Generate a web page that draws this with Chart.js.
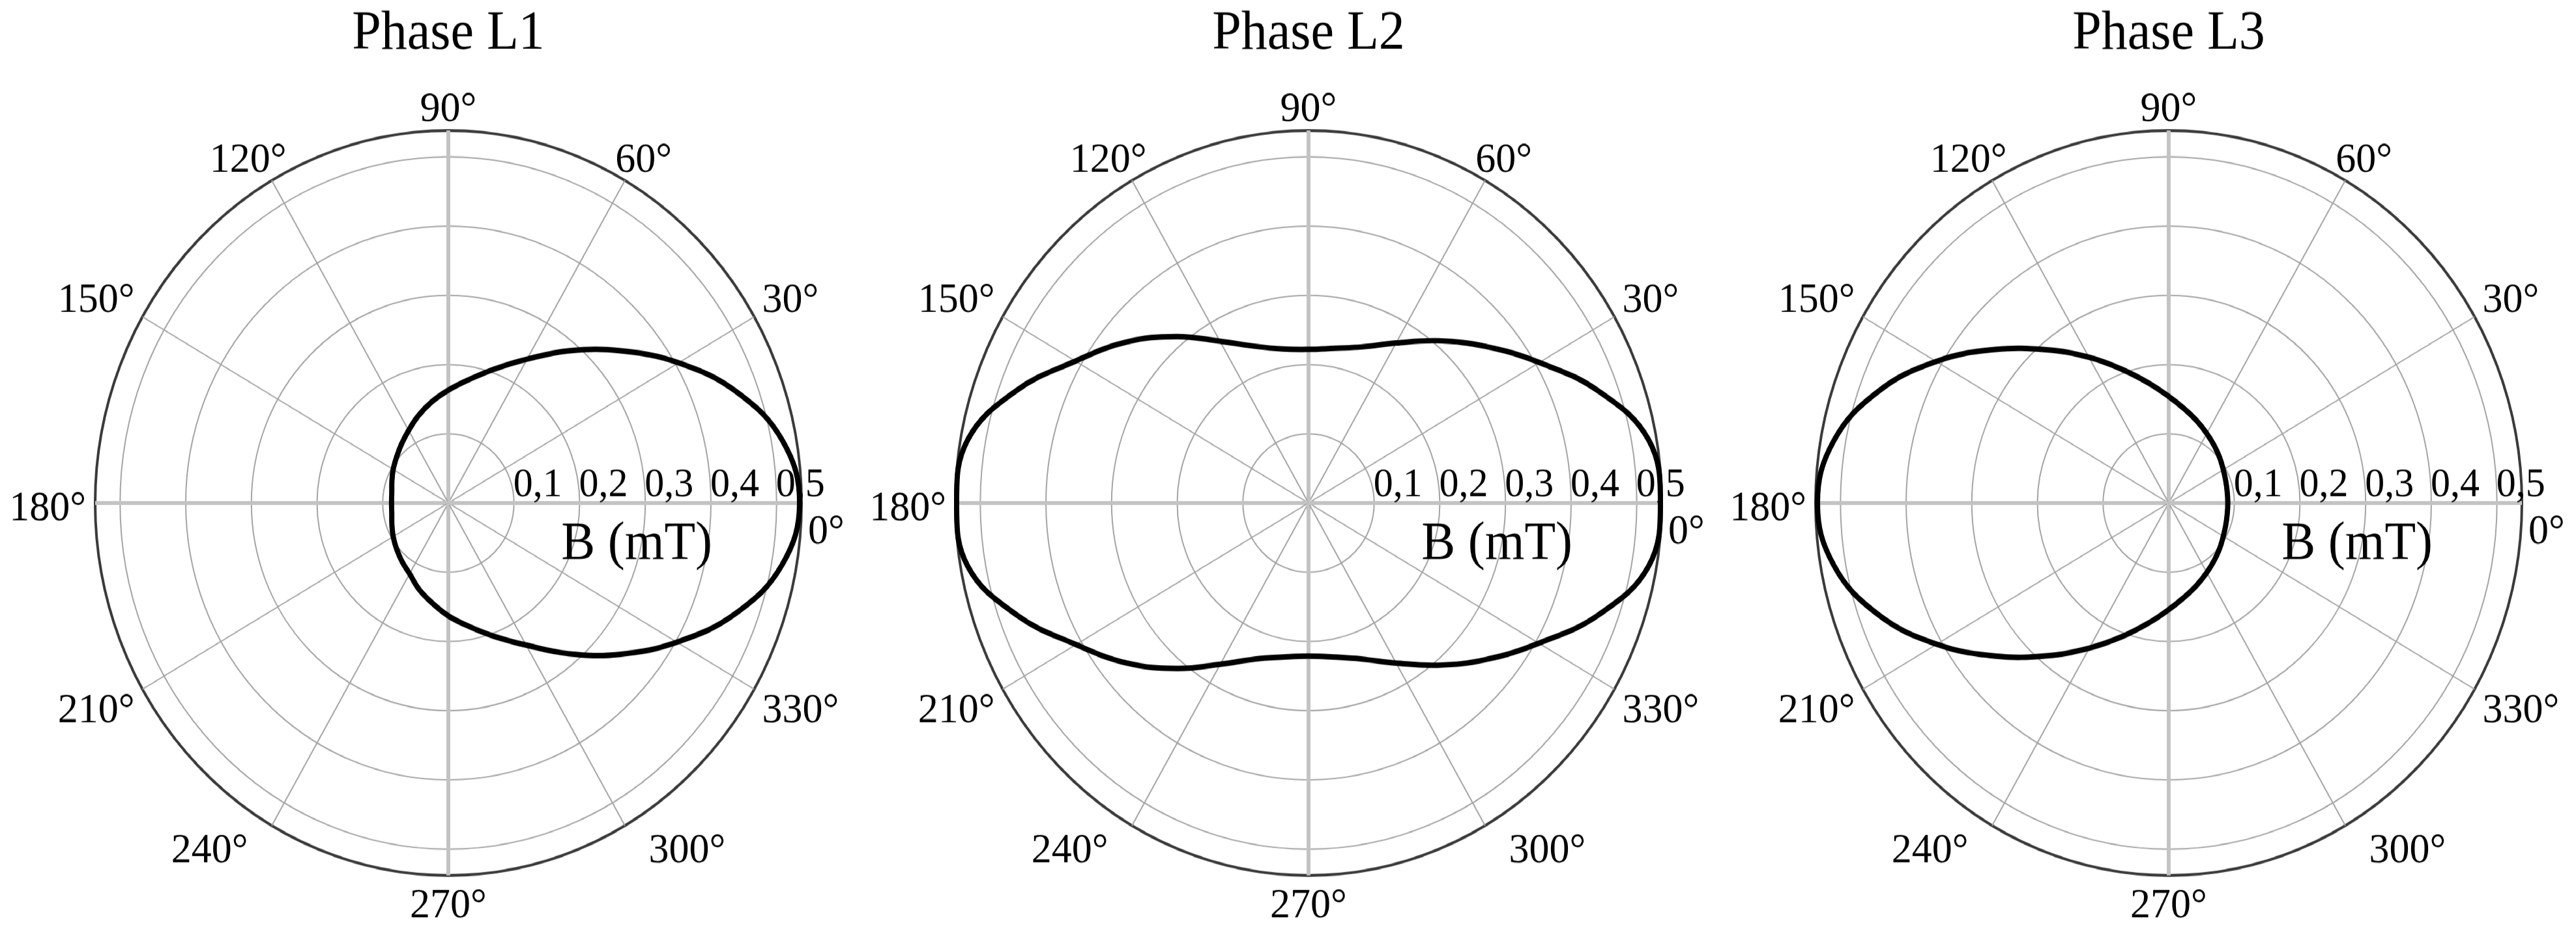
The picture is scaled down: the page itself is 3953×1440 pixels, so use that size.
<!DOCTYPE html>
<html>
<head>
<meta charset="utf-8">
<title>Phase L1 / L2 / L3</title>
<script src="https://cdn.jsdelivr.net/npm/chart.js@4.4.1/dist/chart.umd.min.js"></script>
<style>
  html, body { margin: 0; padding: 0; background: #fff; overflow: hidden; }
  #page { position: absolute; left: 0; top: 0; width: 3953px; height: 1365px;
          transform: scaleY(1.05495); transform-origin: 0 0; }
  .plot { position: absolute; top: 0; width: 1500px; height: 1365px; }
</style>
</head>
<body>
<div id="page">
  <div class="plot" style="left:-62px"><canvas id="l1" width="1500" height="1365"></canvas></div>
  <div class="plot" style="left:1258px"><canvas id="l2" width="1500" height="1365"></canvas></div>
  <div class="plot" style="left:2578px"><canvas id="l3" width="1500" height="1365"></canvas></div>
</div>
<script>
// polar angle of every sample (degrees, counter-clockwise from the right)
const angles = [0, 10, 20, 30, 40, 50, 60, 70, 80, 90, 100, 110, 120, 130, 140, 150, 160, 170,
                180, 190, 200, 210, 220, 230, 240, 250, 260, 270, 280, 290, 300, 310, 320, 330, 340, 350];

const labelAngles = [0, 30, 60, 90, 120, 150, 180, 210, 240, 270, 300, 330];
const angleLabels = ['0°', '30°', '60°', '90°', '120°', '150°', '180°', '210°', '240°', '270°', '300°', '330°'];

const tickValues = [0.1, 0.2, 0.3, 0.4, 0.5];
const tickLabels = ['0,1', '0,2', '0,3', '0,4', '0,5'];
const rMax = 0.538;
const axisTitle = 'B (mT)';

const titles = ['Phase L1', 'Phase L2', 'Phase L3'];

// B (mT) per angle
const phaseL1 = [0.535, 0.517, 0.468, 0.405, 0.342, 0.287, 0.240, 0.206, 0.181, 0.163, 0.148, 0.134,
                 0.121, 0.111, 0.103, 0.097, 0.0915, 0.0875, 0.0865, 0.0875, 0.0915, 0.097, 0.103, 0.110,
                 0.118, 0.132, 0.146, 0.163, 0.181, 0.205, 0.237, 0.284, 0.340, 0.402, 0.466, 0.516];

const phaseL2 = [0.536, 0.526, 0.471, 0.406, 0.352, 0.306, 0.267, 0.240, 0.227, 0.222, 0.226, 0.241,
                 0.270, 0.314, 0.362, 0.410, 0.474, 0.527, 0.536, 0.527, 0.473, 0.409, 0.360, 0.312,
                 0.269, 0.240, 0.226, 0.221, 0.226, 0.240, 0.267, 0.306, 0.352, 0.405, 0.471, 0.526];

const phaseL3 = [0.090, 0.0905, 0.0925, 0.096, 0.1015, 0.108, 0.116, 0.126, 0.138, 0.154, 0.176, 0.205,
                 0.243, 0.289, 0.345, 0.409, 0.471, 0.518, 0.535, 0.518, 0.471, 0.408, 0.344, 0.288,
                 0.242, 0.205, 0.176, 0.154, 0.138, 0.126, 0.116, 0.108, 0.1015, 0.096, 0.0925, 0.0905];

const FONT = '"Liberation Serif", "Times New Roman", serif';

// radar goes clockwise, the plot goes counter-clockwise
function clockwise(arr) {
    return arr.map((_, j) => arr[(arr.length - j) % arr.length]);
}

const polarText = {
    id: 'polarText',
    afterDraw(chart) {
        const s = chart.scales.r;
        const ctx = chart.ctx;
        const n = angles.length;
        const R = s.drawingArea;
        ctx.save();
        ctx.fillStyle = '#000';
        ctx.textBaseline = 'alphabetic';

        // angle labels round the outer circle
        ctx.font = '62px ' + FONT;
        const cap = 41;
        labelAngles.forEach((deg, k) => {
            const idx = (n - angles.indexOf(deg)) % n;
            const p = s.getPointPosition(idx, R + 14);
            const w = ctx.measureText(angleLabels[k]).width;
            let x = p.x, y = p.y, align;
            if (deg === 0) {
                align = 'left';
                x = s.xCenter + R + 10;
                y = s.yCenter + 59;
            } else if (deg === 180) {
                align = 'right';
                y = p.y + cap / 2 + 4;
            } else if (deg === 90) {
                align = 'center';
            } else if (deg === 270) {
                align = 'center';
                y = p.y + cap + 6;
            } else {
                align = (deg < 90 || deg > 270) ? 'left' : 'right';
                // steep labels sit nearer to the line end
                if (deg % 180 === 60) x -= w / 4;
                if (deg % 180 === 120) x += w / 4;
                if (deg > 180) y = p.y + cap;
            }
            ctx.textAlign = align;
            ctx.fillText(angleLabels[k], x, y);
        });

        // radial tick labels along the 0° axis
        ctx.font = '60px ' + FONT;
        ctx.textAlign = 'left';
        tickValues.forEach((v, k) => {
            const d = s.getDistanceFromCenterForValue(v);
            ctx.fillText(tickLabels[k], s.xCenter + d - 1, s.yCenter - 10);
        });

        // axis title
        ctx.font = '78px ' + FONT;
        ctx.textAlign = 'center';
        ctx.fillText(axisTitle, s.xCenter + s.getDistanceFromCenterForValue(0.287), s.yCenter + 81);
        ctx.restore();
    }
};

function makeChart(id, title, values) {
    return new Chart(document.getElementById(id), {
        type: 'radar',
        data: {
            labels: clockwise(angles).map(a => a + '°'),
            datasets: [{
                label: title,
                data: clockwise(values),
                borderColor: '#000',
                borderWidth: 8,
                backgroundColor: 'transparent',
                fill: false,
                pointRadius: 0,
                pointHoverRadius: 0,
                tension: 0.4
            }]
        },
        options: {
            responsive: false,
            devicePixelRatio: 1,
            animation: false,
            events: [],
            layout: { padding: { top: 0, bottom: 91, left: 208, right: 208 } },
            plugins: {
                legend: { display: false },
                tooltip: { enabled: false },
                title: {
                    display: true,
                    text: title,
                    color: '#000',
                    font: { family: FONT, size: 80, weight: 'normal', lineHeight: 1.2 },
                    padding: { top: 2, bottom: 92 }
                }
            },
            scales: {
                r: {
                    min: 0,
                    max: rMax,
                    startAngle: 90,
                    afterBuildTicks: scale => {
                        scale.ticks = [0].concat(tickValues, [rMax]).map(v => ({ value: v }));
                    },
                    ticks: { display: false },
                    pointLabels: { display: false },
                    grid: {
                        circular: true,
                        color: c => (c.tick && c.tick.value >= rMax - 1e-6) ? '#3a3a3a' : '#a4a4a4',
                        lineWidth: c => (c.tick && c.tick.value >= rMax - 1e-6) ? 4 : 2
                    },
                    angleLines: {
                        color: c => c.index % 9 === 0 ? '#c3c3c3' : (c.index % 3 === 0 ? '#a4a4a4' : 'transparent'),
                        lineWidth: c => c.index % 9 === 0 ? 6 : (c.index % 3 === 0 ? 2 : 0)
                    }
                }
            }
        },
        plugins: [polarText]
    });
}

makeChart('l1', titles[0], phaseL1);
makeChart('l2', titles[1], phaseL2);
makeChart('l3', titles[2], phaseL3);
</script>
</body>
</html>
